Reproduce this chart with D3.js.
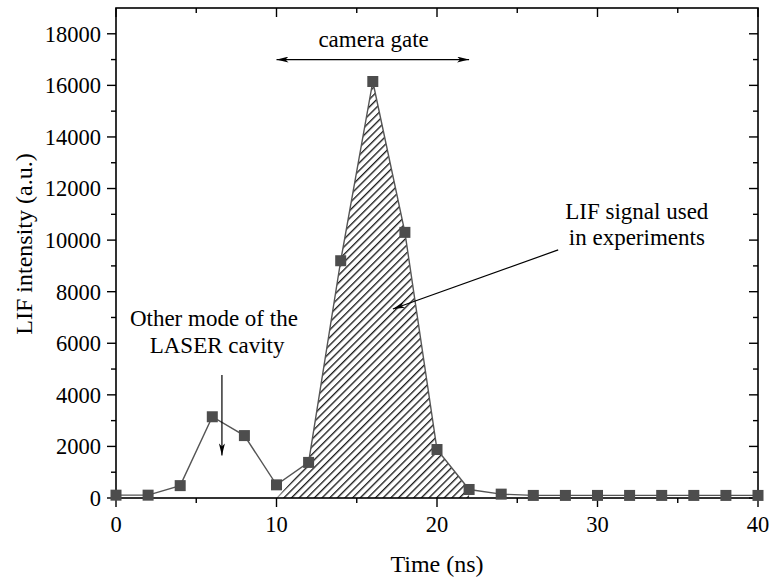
<!DOCTYPE html>
<html>
<head>
<meta charset="utf-8">
<script src="https://cdn.jsdelivr.net/npm/d3@7"></script>
<style>
  body { margin: 0; background: #fff; }
  svg text { font-family: 'Liberation Serif', 'DejaVu Serif', serif; fill: #000; }
</style>
</head>
<body>
<script>
// data
var time = [0, 2, 4, 6, 8, 10, 12, 14, 16, 18, 20, 22, 24, 26, 28, 30, 32, 34, 36, 38, 40];
var intensity = [110, 110, 480, 3150, 2420, 510, 1380, 9200, 16150, 10300, 1880, 330, 150, 100, 100, 100, 100, 100, 100, 100, 100];
var hatchFrom = 10, hatchTo = 22;   // shaded LIF window
var xMajor = [0, 10, 20, 30, 40];
var xMinor = [5, 15, 25, 35];
var yMajor = [0, 2000, 4000, 6000, 8000, 10000, 12000, 14000, 16000, 18000];
var yMinor = [1000, 3000, 5000, 7000, 9000, 11000, 13000, 15000, 17000];
var gate = [10, 22];
var gateY = 17000;

var serif = "'Liberation Serif', 'DejaVu Serif', serif";

var svg = d3.select("body")
    .append("svg")
    .attr("width", "771")
    .attr("height", "581")
    .attr("font-family", serif)
    .style('display', 'block');
margin = {top: 8, right: 13, bottom: 83, left: 116};
width = +svg.attr("width") - margin.left - margin.right;
height = +svg.attr("height") - margin.top - margin.bottom;
var g = svg.append("g").attr("transform", "translate(" + margin.left + "," + margin.top + ")");

var x = d3.scaleLinear().domain([0, 40]).range([0, width]);
var y = d3.scaleLinear().domain([0, 19000]).range([height, 0]);

// hatch pattern
var defs = svg.append("defs");
defs.append("pattern")
    .attr("id", "hatch")
    .attr("patternUnits", "userSpaceOnUse")
    .attr("width", 5.4)
    .attr("height", 10)
    .attr("patternTransform", "rotate(45)")
    .append("line")
    .attr("x1", 0.7).attr("y1", 0)
    .attr("x2", 0.7).attr("y2", 10)
    .attr("stroke", "#000")
    .attr("stroke-width", 1.2);

defs.append("marker")
    .attr("id", "head")
    .attr("viewBox", "0 0 12 6")
    .attr("refX", 12).attr("refY", 3)
    .attr("markerWidth", 12).attr("markerHeight", 6)
    .attr("markerUnits", "userSpaceOnUse")
    .attr("orient", "auto-start-reverse")
    .append("path")
    .attr("d", "M0,0 L12,3 L0,6 L3,3 Z")
    .attr("fill", "#000");

// shaded area
var pts = time.map(function(t, i) { return [t, intensity[i]]; })
    .filter(function(p) { return p[0] >= hatchFrom && p[0] <= hatchTo; });
var poly = [[hatchFrom, 0]].concat(pts.slice(1)).concat([[hatchTo, 0]]);
g.append("path")
    .attr("d", d3.line().x(function(p) { return x(p[0]); }).y(function(p) { return y(p[1]); })(poly) + "Z")
    .attr("fill", "url(#hatch)")
    .attr("stroke", "none");

// data line
var line = d3.line()
    .x(function(d, i) { return x(time[i]); })
    .y(function(d) { return y(d); });
g.append("path")
    .attr("d", line(intensity))
    .attr("fill", "none")
    .attr("stroke", "#555")
    .attr("stroke-width", 1.4);

// frame and ticks
g.append("rect")
    .attr("width", width).attr("height", height)
    .attr("fill", "none").attr("stroke", "#000").attr("stroke-width", 1.6);

function ticks(vals, len, axis) {
    vals.forEach(function(v) {
        if (axis == "x") {
            g.append("line").attr("x1", x(v)).attr("x2", x(v)).attr("y1", height).attr("y2", height + len)
                .attr("stroke", "#000").attr("stroke-width", 1.4);
            g.append("line").attr("x1", x(v)).attr("x2", x(v)).attr("y1", 0).attr("y2", len)
                .attr("stroke", "#000").attr("stroke-width", 1.4);
        } else {
            g.append("line").attr("y1", y(v)).attr("y2", y(v)).attr("x1", 0).attr("x2", -len)
                .attr("stroke", "#000").attr("stroke-width", 1.4);
            g.append("line").attr("y1", y(v)).attr("y2", y(v)).attr("x1", width).attr("x2", width - len)
                .attr("stroke", "#000").attr("stroke-width", 1.4);
        }
    });
}
ticks(xMajor, 9, "x");
ticks(xMinor, 5, "x");
ticks(yMajor, 9, "y");
ticks(yMinor, 5, "y");

g.selectAll(".xlab")
    .data(xMajor)
    .enter().append("text")
    .attr("x", function(d) { return x(d); })
    .attr("y", height + 34)
    .attr("text-anchor", "middle")
    .style("font-family", serif)
    .style("font-size", "22.5px")
    .text(function(d) { return d; });

g.selectAll(".ylab")
    .data(yMajor)
    .enter().append("text")
    .attr("x", -15)
    .attr("y", function(d) { return y(d); })
    .attr("dy", "0.35em")
    .attr("text-anchor", "end")
    .style("font-family", serif)
    .style("font-size", "22.5px")
    .text(function(d) { return d; });

// markers
g.selectAll(".pt")
    .data(intensity)
    .enter().append("rect")
    .attr("x", function(d, i) { return x(time[i]) - 5.5; })
    .attr("y", function(d) { return y(d) - 5.5; })
    .attr("width", 11).attr("height", 11)
    .attr("fill", "#4d4d4d");

// axis titles
svg.append("text")
    .attr("x", margin.left + width / 2)
    .attr("y", 572)
    .attr("text-anchor", "middle")
    .style("font-family", serif)
    .style("font-size", "24px")
    .text("Time (ns)");

svg.append("text")
    .attr("transform", "translate(32," + 244 + ") rotate(-90)")
    .attr("text-anchor", "middle")
    .style("font-family", serif)
    .style("font-size", "24px")
    .text("LIF intensity (a.u.)");

// annotations
g.append("line")
    .attr("x1", x(gate[0])).attr("x2", x(gate[1]))
    .attr("y1", y(gateY)).attr("y2", y(gateY))
    .attr("stroke", "#000").attr("stroke-width", 1.3)
    .attr("marker-start", "url(#head)")
    .attr("marker-end", "url(#head)");

var arrows = [
    {from: [27.55, 9620], to: [17.25, 7330]},
    {from: [6.6, 4770], to: [6.6, 1650]}
];
arrows.forEach(function(a) {
    g.append("line")
        .attr("x1", x(a.from[0])).attr("y1", y(a.from[1]))
        .attr("x2", x(a.to[0])).attr("y2", y(a.to[1]))
        .attr("stroke", "#000").attr("stroke-width", 1.2)
        .attr("marker-end", "url(#head)");
});

var notes = [
    {x: 16.05, y: 17500, text: "camera gate"},
    {x: 32.45, y: 10820, text: "LIF signal used"},
    {x: 32.45, y: 9810, text: "in experiments"},
    {x: 6.1, y: 6670, text: "Other mode of the"},
    {x: 6.3, y: 5620, text: "LASER cavity"}
];
g.selectAll(".note")
    .data(notes)
    .enter().append("text")
    .attr("x", function(d) { return x(d.x); })
    .attr("y", function(d) { return y(d.y); })
    .attr("text-anchor", "middle")
    .style("font-family", serif)
    .style("font-size", "23px")
    .text(function(d) { return d.text; });
</script>
</body>
</html>
